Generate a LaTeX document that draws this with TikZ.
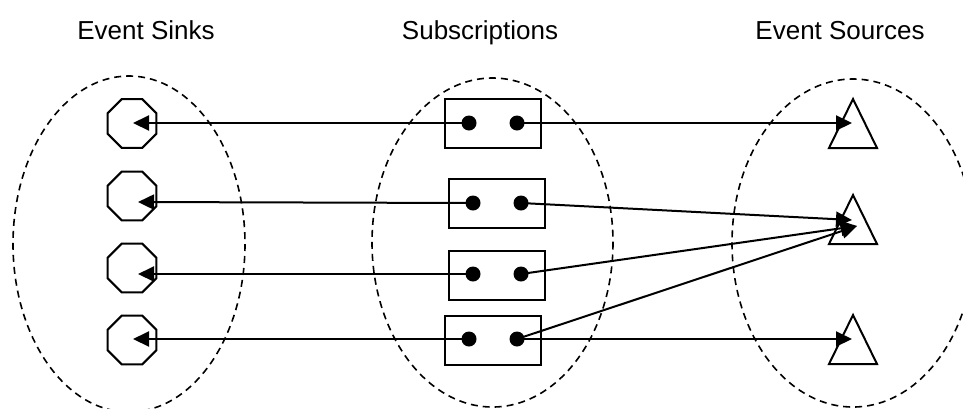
\documentclass[tikz,border=0pt]{standalone}
\usepackage{fontspec}
\setmainfont{Liberation Sans}
\usetikzlibrary{arrows.meta,shapes.geometric,calc}
\begin{document}
\begin{tikzpicture}[x=1pt,y=-1pt,
  grp/.style={draw,dashed,dash pattern=on 7pt off 5pt,line width=1.6pt},
  sink/.style={draw,regular polygon,regular polygon sides=8,minimum size=53pt,inner sep=0pt,line width=2pt},
  sub/.style={draw,rectangle,minimum width=96pt,minimum height=49pt,inner sep=0pt,line width=2pt},
  dotn/.style={circle,fill=black,minimum size=15pt,inner sep=0pt},
  tri/.style={draw,line width=2pt,line join=miter},
  arr/.style={line width=2pt,-{Triangle[length=16pt,width=15pt]}},
  lbl/.style={font=\fontsize{26pt}{30pt}\selectfont,anchor=base}
]
\useasboundingbox (0,0) rectangle (963,408);
\clip (0,0) rectangle (963,408);
% groups
\draw[grp] (129,244) ellipse [x radius=116, y radius=168];
\draw[grp] (492.5,242.5) ellipse [x radius=120.5, y radius=164.5];
\draw[grp] (853,243) ellipse [x radius=121, y radius=164];
% labels
\node[lbl] (l1) at (146,39) {Event Sinks};
\node[lbl] (l2) at (480,39) {Subscriptions};
\node[lbl] (l3) at (840,39) {Event Sources};
% sinks
\node[sink] (s1) at (132,123.5) {};
\node[sink] (s2) at (132,196) {};
\node[sink] (s3) at (132,268) {};
\node[sink] (s4) at (132,340) {};
\coordinate (s1t) at (133,123);
\coordinate (s2t) at (138,202);
\coordinate (s3t) at (138,274);
\coordinate (s4t) at (133,339);
% subscriptions
\node[sub] (b1) at (493,123.5) {};
\node[sub] (b2) at (497,203) {};
\node[sub] (b3) at (497,275) {};
\node[sub] (b4) at (493,340) {};
% sources
\coordinate (e1) at (853,123.5);
\coordinate (e2) at (853,219.5);
\coordinate (e3) at (853,339.5);
\draw[tri] ($(e1)+(0,-24.5)$) -- ++(24,49) -- ++(-48,0) -- cycle;
\draw[tri] ($(e2)+(0,-24.5)$) -- ++(24,49) -- ++(-48,0) -- cycle;
\draw[tri] ($(e3)+(0,-24.5)$) -- ++(24,49) -- ++(-48,0) -- cycle;
\coordinate (e1t) at (852,123);
\coordinate (e2a) at (852,220);
\coordinate (e2b) at (857,226);
\coordinate (e3t) at (852,339);
% dots
\node[dotn] (a1) at (469,123) {};
\node[dotn] (c1) at (517,123) {};
\node[dotn] (a2) at (473,203) {};
\node[dotn] (c2) at (521,203) {};
\node[dotn] (a3) at (473,274) {};
\node[dotn] (c3) at (521,274) {};
\node[dotn] (a4) at (469,339) {};
\node[dotn] (c4) at (517,339) {};
% connectors
\draw[arr] (a1.center) -- (s1t);
\draw[arr] (a2.center) -- (s2t);
\draw[arr] (a3.center) -- (s3t);
\draw[arr] (a4.center) -- (s4t);
\draw[arr] (c1.center) -- (e1t);
\draw[arr] (c2.center) -- (e2a);
\draw[arr] (c3.center) -- (e2b);
\draw[arr] (c4.center) -- (e2b);
\draw[arr] (c4.center) -- (e3t);
\end{tikzpicture}
\end{document}
